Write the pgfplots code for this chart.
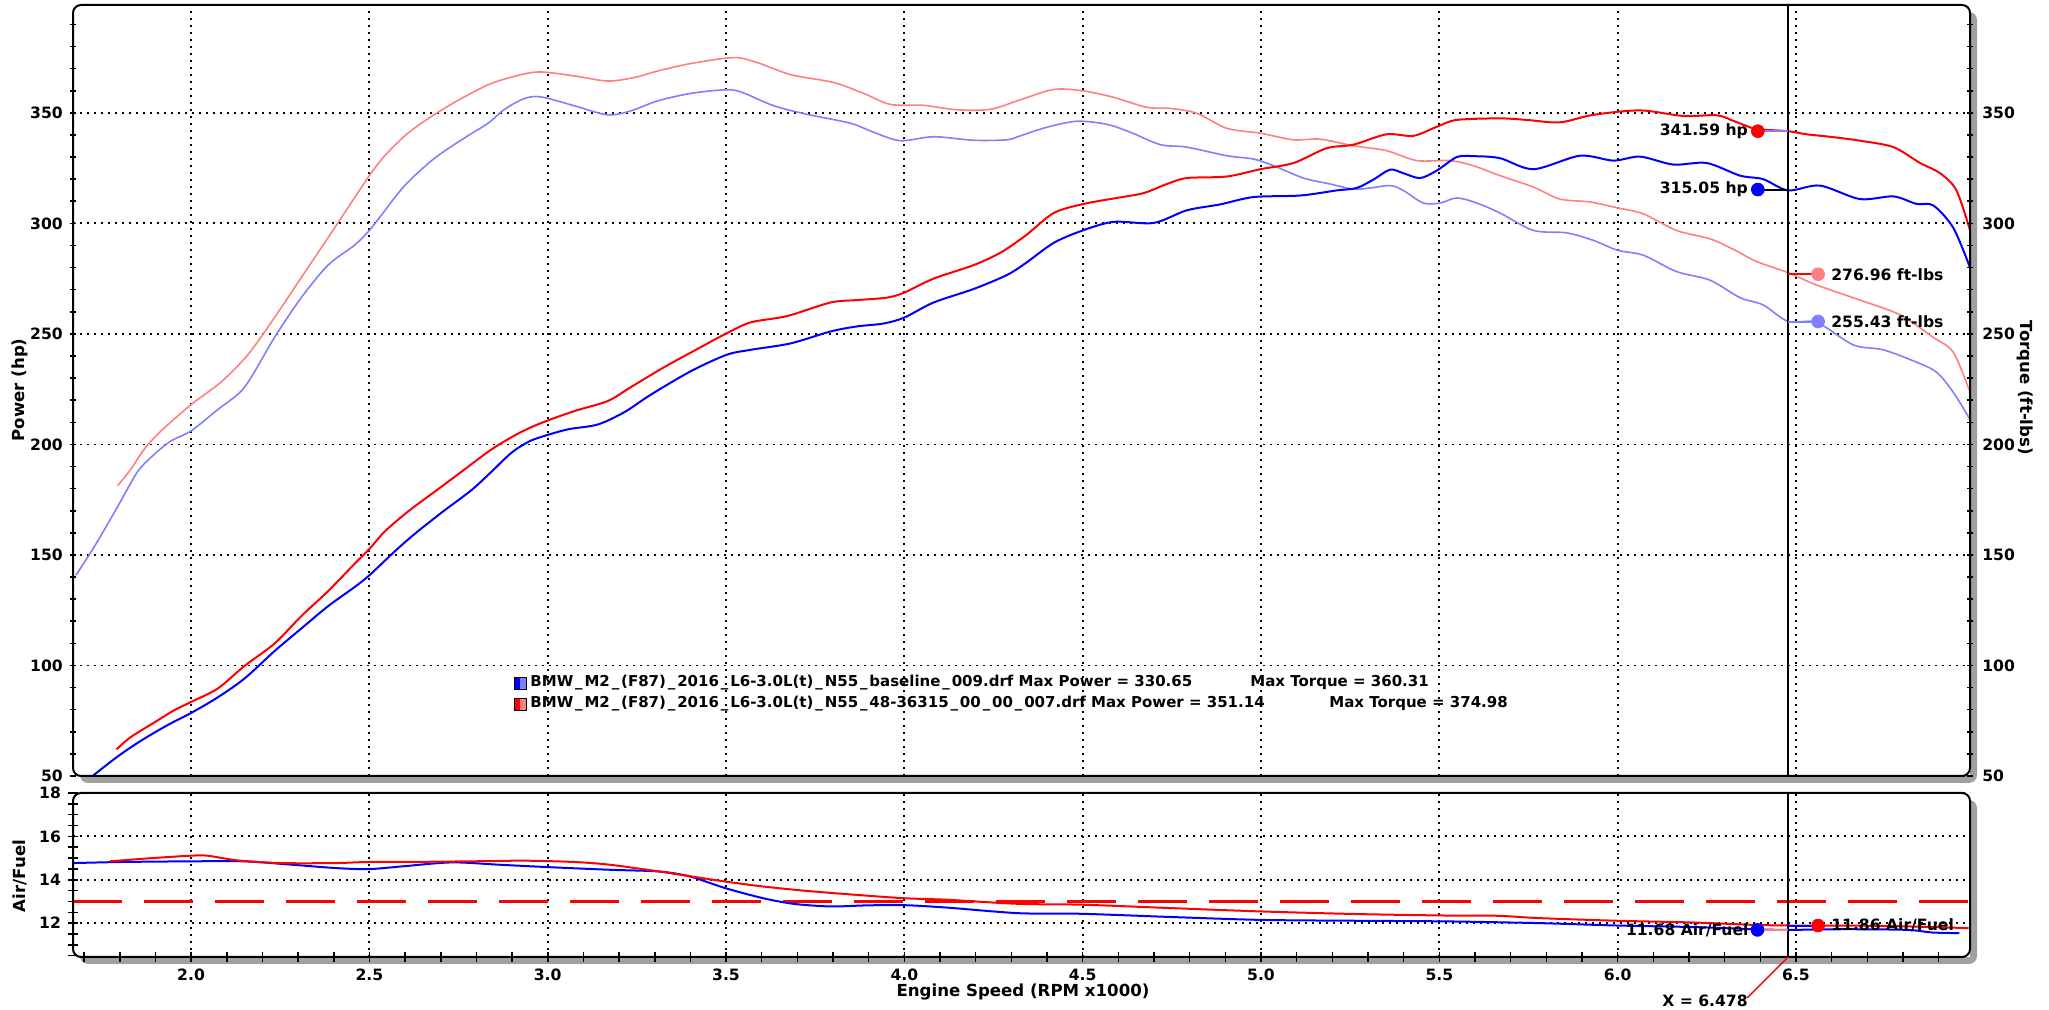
\documentclass[border=0pt]{standalone}
\usepackage{fontspec}
\setmainfont{DejaVu Sans}
\usepackage{pgfplots}
\pgfplotsset{compat=1.18}
\definecolor{lred}{RGB}{255,128,128}
\definecolor{lblue}{RGB}{128,128,255}
\definecolor{shgray}{RGB}{160,160,160}
\newcommand{\tf}{\bfseries\fontsize{7.8}{9}\selectfont}
\newcommand{\lf}{\bfseries\fontsize{8.3}{10}\selectfont}
\newcommand{\legf}{\bfseries\fontsize{7.5}{9}\selectfont}
\newcommand{\us}{\makebox[0.75em][c]{\_}}
\pgfplotsset{
 dyno/.style={
  scale only axis, width=948.5pt,
  xmin=1.669, xmax=6.988,
  axis line style={draw=none},
  /pgf/number format/assume math mode=true,
  tick label style={font=\tf},
  tick style={black, line width=0.8pt},
  major tick length=3.2pt, minor tick length=3.2pt,
  tick align=center,
  major grid style={black, line width=0.9pt, dash pattern=on 0.9pt off 2.6pt},
  xtick={2,2.5,3,3.5,4,4.5,5,5.5,6,6.5},
 }
}
\begin{document}
\begin{tikzpicture}
\fill[shgray, rounded corners=4pt] (40pt,113.5pt) rectangle (988.5pt,499pt);
\fill[shgray, rounded corners=4pt] (40pt,23pt) rectangle (988.5pt,105pt);

% ---------------- upper: power / torque
\begin{axis}[dyno, at={(36.5pt,117pt)}, anchor=south west, height=385.5pt,
  axis background/.style={fill=white},
  xmajorgrids, ymajorgrids,
  ymin=50, ymax=398.8,
  ytick={50,100,150,200,250,300,350}, minor ytick={60,70,...,390}, ytick pos=left,
  xticklabels={}, every major x tick/.append style={draw=none}]
% baseline torque
\addplot[lblue, line width=0.8pt, smooth] coordinates {
(1.677,140.8) (1.729,153.8) (1.794,171.8) (1.850,187.6) (1.897,195.5) (1.944,201.6) (2.0,206.1) (2.075,215.8) (2.150,225.9) (2.234,248.4) (2.309,266.4) (2.384,281.1) (2.458,290.1) (2.5,296.8) (2.533,303.6) (2.599,317.1) (2.683,329.5) (2.776,339.6) (2.833,345.3) (2.879,351.6) (2.935,356.5) (2.982,357.2) (3.075,353.2) (3.168,349.1) (3.233,350.9) (3.308,355.4) (3.401,358.8) (3.494,360.4) (3.541,359.5) (3.634,353.2) (3.728,349.3) (3.849,345.3) (3.914,341.2) (3.989,337.4) (4.082,339.2) (4.194,337.6) (4.287,337.8) (4.325,339.6) (4.400,343.5) (4.484,346.2) (4.568,344.8) (4.634,341.2) (4.718,335.6) (4.792,334.5) (4.904,330.6) (4.979,329.1) (5.035,326.1) (5.119,320.5) (5.194,317.8) (5.259,315.5) (5.306,316.0) (5.362,317.1) (5.399,314.9) (5.455,309.2) (5.502,309.2) (5.549,311.5) (5.605,309.2) (5.670,304.7) (5.764,296.8) (5.857,295.7) (5.932,292.3) (6.0,287.8) (6.072,285.6) (6.165,278.2) (6.259,274.3) (6.343,266.4) (6.408,263.1) (6.478,255.6) (6.558,255.2) (6.661,245.0) (6.745,242.8) (6.838,237.2) (6.894,232.7) (6.941,223.6) (6.988,211.3)};
% modified torque
\addplot[lred, line width=0.8pt, smooth] coordinates {
(1.794,181.3) (1.830,188.5) (1.869,197.9) (1.916,206.1) (2.0,218.0) (2.084,228.2) (2.159,240.5) (2.234,257.4) (2.309,275.5) (2.384,293.5) (2.458,311.5) (2.5,321.6) (2.543,330.6) (2.608,340.8) (2.683,349.3) (2.758,356.5) (2.842,363.3) (2.926,367.3) (2.982,368.5) (3.075,366.7) (3.168,364.4) (3.243,366.0) (3.308,368.9) (3.401,372.3) (3.522,375.0) (3.588,372.7) (3.681,367.3) (3.802,363.7) (3.886,358.8) (3.961,353.8) (4.054,353.4) (4.147,351.4) (4.241,351.6) (4.325,355.9) (4.419,360.6) (4.503,359.9) (4.587,357.0) (4.680,352.5) (4.746,352.0) (4.820,349.8) (4.904,343.0) (4.998,340.8) (5.091,337.8) (5.166,338.1) (5.259,335.1) (5.352,332.9) (5.437,328.4) (5.530,328.4) (5.595,326.1) (5.670,321.6) (5.764,316.4) (5.838,311.0) (5.922,309.7) (6.0,307.0) (6.072,304.3) (6.165,296.8) (6.259,293.0) (6.324,288.3) (6.390,282.7) (6.478,277.7) (6.558,272.1) (6.679,265.3) (6.792,258.6) (6.885,248.4) (6.941,241.7) (6.988,223.6)};
% baseline power
\addplot[blue, line width=1pt, smooth] coordinates {
(1.724,50) (1.794,58.8) (1.860,66.0) (1.934,73.0) (2.0,78.5) (2.075,85.6) (2.150,94.1) (2.234,106.5) (2.309,116.7) (2.384,126.8) (2.458,135.4) (2.5,140.8) (2.571,151.6) (2.627,159.5) (2.702,169.1) (2.786,179.3) (2.842,187.6) (2.898,196.2) (2.945,201.1) (2.982,203.4) (3.056,206.8) (3.140,209.0) (3.215,214.6) (3.289,222.5) (3.401,233.1) (3.501,240.5) (3.569,242.8) (3.681,245.7) (3.793,251.1) (3.868,253.4) (3.942,254.7) (4.0,257.4) (4.082,264.2) (4.194,270.3) (4.287,276.6) (4.340,282.0) (4.419,291.2) (4.5,296.8) (4.587,300.7) (4.699,300.2) (4.792,305.9) (4.886,308.6) (4.979,311.9) (5.110,312.6) (5.212,314.9) (5.268,316.0) (5.315,319.8) (5.362,324.3) (5.399,322.7) (5.446,320.5) (5.493,323.9) (5.549,330.0) (5.595,330.4) (5.670,329.5) (5.764,324.5) (5.894,330.6) (5.988,328.4) (6.063,330.2) (6.156,326.6) (6.250,327.3) (6.343,321.6) (6.408,320.0) (6.478,314.9) (6.567,317.1) (6.679,311.0) (6.773,312.2) (6.838,308.8) (6.885,308.1) (6.941,298.0) (6.988,280.0)};
% modified power
\addplot[red, line width=1pt, smooth] coordinates {
(1.791,62.0) (1.830,67.5) (1.900,74.5) (1.950,79.5) (2.0,83.5) (2.075,89.6) (2.150,99.8) (2.234,109.9) (2.309,122.3) (2.384,133.6) (2.458,145.9) (2.5,152.7) (2.543,160.6) (2.608,169.6) (2.683,178.6) (2.758,187.6) (2.842,197.7) (2.917,204.9) (2.982,209.7) (3.075,215.1) (3.168,219.6) (3.233,225.9) (3.326,234.9) (3.420,243.2) (3.501,250.2) (3.569,255.2) (3.672,258.1) (3.793,264.2) (3.868,265.3) (3.951,266.4) (4.0,268.7) (4.082,275.0) (4.194,281.1) (4.269,286.7) (4.340,294.5) (4.419,304.7) (4.503,308.8) (4.596,311.5) (4.671,313.7) (4.736,317.8) (4.792,320.5) (4.904,321.2) (4.998,324.5) (5.091,327.3) (5.184,334.0) (5.259,335.6) (5.352,340.3) (5.427,339.6) (5.493,343.7) (5.549,346.8) (5.670,347.5) (5.745,346.8) (5.838,345.7) (5.932,349.1) (6.063,351.1) (6.184,348.6) (6.278,348.9) (6.324,346.4) (6.380,343.0) (6.418,342.3) (6.478,341.7) (6.530,340.3) (6.605,339.0) (6.679,337.4) (6.773,334.5) (6.848,327.3) (6.904,322.7) (6.950,314.9) (6.988,296.8)};
% cursor
\addplot[black, line width=1pt] coordinates {(6.478,50) (6.478,398.8)};
% cursor read-outs
\addplot[lblue, line width=1pt] coordinates {(6.393,341.7) (6.478,341.7)};
\addplot[black, line width=1pt] coordinates {(6.393,315.3) (6.478,315.3)};
\addplot[red, line width=1pt] coordinates {(6.478,277.0) (6.562,277.0)};
\addplot[lblue, line width=1pt] coordinates {(6.478,255.6) (6.562,255.6)};
\addplot[only marks, mark=*, mark size=3.2pt, red] coordinates {(6.393,341.7)};
\addplot[only marks, mark=*, mark size=3.2pt, blue] coordinates {(6.393,315.3)};
\addplot[only marks, mark=*, mark size=3.2pt, lred] coordinates {(6.562,277.0)};
\addplot[only marks, mark=*, mark size=3.2pt, lblue] coordinates {(6.562,255.6)};
\node[anchor=east, inner sep=0pt, font=\tf] at (axis cs:6.366,341.7) {341.59 hp};
\node[anchor=east, inner sep=0pt, font=\tf] at (axis cs:6.366,315.3) {315.05 hp};
\node[anchor=west, inner sep=0pt, font=\tf] at (axis cs:6.598,277.0) {276.96 ft-lbs};
\node[anchor=west, inner sep=0pt, font=\tf] at (axis cs:6.598,255.6) {255.43 ft-lbs};
\end{axis}

% right axis (torque scale)
\begin{axis}[dyno, at={(36.5pt,117pt)}, anchor=south west, height=385.5pt,
  ymin=50, ymax=398.8, axis x line=none, axis y line*=right,
  xtick=\empty,
  ytick={50,100,150,200,250,300,350}, minor ytick={60,70,...,390},
  yticklabel style={xshift=1pt}]
\end{axis}

% ---------------- lower: air/fuel
\begin{axis}[dyno, at={(36.5pt,26.5pt)}, anchor=south west, height=82pt,
  axis background/.style={fill=white},
  xmajorgrids, ymajorgrids,
  ymin=10.44, ymax=18,
  ytick={12,14,16,18}, minor ytick={10.5,11,11.5,12.5,13,13.5,14.5,15,15.5,16.5,17,17.5}, ytick pos=left,
  xtick pos=left, minor xtick={1.7,1.8,1.9,2.1,2.2,2.3,2.4,2.6,2.7,2.8,2.9,3.1,3.2,3.3,3.4,3.6,3.7,3.8,3.9,4.1,4.2,4.3,4.4,4.6,4.7,4.8,4.9,5.1,5.2,5.3,5.4,5.6,5.7,5.8,5.9,6.1,6.2,6.3,6.4,6.6,6.7,6.8,6.9},
  major tick length=5pt, minor tick length=5pt,
  xticklabel style={/pgf/number format/fixed, /pgf/number format/fixed zerofill, /pgf/number format/precision=1}]
\addplot[red, line width=1.5pt, dash pattern=on 24.5pt off 11pt] coordinates {(1.669,13) (6.988,13)};
\addplot[blue, line width=1pt, smooth] coordinates {
(1.670,14.77) (1.807,14.82) (2.0,14.85) (2.149,14.85) (2.286,14.69) (2.406,14.54) (2.497,14.49) (2.594,14.62) (2.731,14.80) (2.868,14.69) (3.005,14.58) (3.176,14.46) (3.313,14.38) (3.399,14.15) (3.497,13.62) (3.604,13.15) (3.690,12.89) (3.793,12.77) (3.896,12.82) (3.998,12.83) (4.118,12.72) (4.320,12.46) (4.5,12.43) (4.754,12.28) (5.0,12.15) (5.268,12.11) (5.526,12.08) (5.783,12.0) (6.0,11.89) (6.212,11.82) (6.383,11.72) (6.478,11.69) (6.641,11.72) (6.812,11.69) (6.881,11.57) (6.958,11.54)};
\addplot[red, line width=1pt, smooth] coordinates {
(1.772,14.85) (1.892,15.0) (2.0,15.11) (2.046,15.11) (2.132,14.89) (2.252,14.77) (2.406,14.77) (2.497,14.82) (2.663,14.83) (2.834,14.86) (2.937,14.88) (3.074,14.82) (3.176,14.69) (3.313,14.38) (3.416,14.12) (3.497,13.92) (3.604,13.69) (3.724,13.49) (3.861,13.31) (3.998,13.15) (4.118,13.08) (4.320,12.89) (4.5,12.85) (4.754,12.69) (5.0,12.54) (5.268,12.42) (5.526,12.35) (5.663,12.34) (5.783,12.23) (6.0,12.11) (6.212,12.03) (6.383,11.92) (6.5,11.89) (6.641,11.89) (6.812,11.85) (6.984,11.77)};
\addplot[black, line width=1pt] coordinates {(6.478,10.44) (6.478,18)};
\addplot[lred, line width=1pt] coordinates {(6.392,11.69) (6.478,11.69)};
\addplot[blue, line width=1pt] coordinates {(6.478,11.89) (6.562,11.89)};
\addplot[only marks, mark=*, mark size=3.2pt, blue] coordinates {(6.392,11.69)};
\addplot[only marks, mark=*, mark size=3.2pt, red] coordinates {(6.562,11.89)};
\node[anchor=east, inner sep=0pt, font=\tf] at (axis cs:6.368,11.69) {11.68 Air/Fuel};
\node[anchor=west, inner sep=0pt, font=\tf] at (axis cs:6.598,11.88) {11.86 Air/Fuel};
\coordinate (cur) at (axis cs:6.478,10.44);
\end{axis}

% borders
\draw[line width=1pt, rounded corners=4pt] (36.5pt,117pt) rectangle (985pt,502.5pt);
\draw[line width=1pt, rounded corners=4pt] (36.5pt,26.5pt) rectangle (985pt,108.5pt);

% legend
\fill[blue] (257pt,160.5pt) rectangle (260pt,166.5pt);
\fill[lblue] (260pt,160.5pt) rectangle (263pt,166.5pt);
\draw[line width=0.4pt] (257pt,160.5pt) rectangle (263pt,166.5pt);
\fill[red] (257pt,150pt) rectangle (260pt,156pt);
\fill[lred] (260pt,150pt) rectangle (263pt,156pt);
\draw[line width=0.4pt] (257pt,150pt) rectangle (263pt,156pt);
\node[anchor=west, inner sep=0pt, font=\legf] at (265pt,163.5pt) {BMW\us M2\us (F87)\us 2016\us L6-3.0L(t)\us N55\us baseline\us 009.drf Max Power = 330.65};
\node[anchor=west, inner sep=0pt, font=\legf] at (625pt,163.5pt) {Max Torque = 360.31};
\node[anchor=west, inner sep=0pt, font=\legf] at (265pt,153pt) {BMW\us M2\us (F87)\us 2016\us L6-3.0L(t)\us N55\us 48-36315\us 00\us 00\us 007.drf Max Power = 351.14};
\node[anchor=west, inner sep=0pt, font=\legf] at (664.5pt,153pt) {Max Torque = 374.98};

% axis labels
\node[rotate=90, font=\lf] at (10pt,310pt) {Power (hp)};
\node[rotate=-90, font=\lf] at (1012.5pt,311pt) {Torque (ft-lbs)};
\node[rotate=90, font=\lf] at (10pt,67pt) {Air/Fuel};
\node[font=\lf] at (511.5pt,9pt) {Engine Speed (RPM x1000)};
\draw[red, line width=0.7pt] (cur) -- (873.5pt,6pt);
\node[font=\tf, inner sep=0pt] at (852.5pt,4.5pt) {X = 6.478};

\pgfresetboundingbox
\path (0pt,0pt) rectangle (1024.5pt,505pt);
\end{tikzpicture}
\end{document}
